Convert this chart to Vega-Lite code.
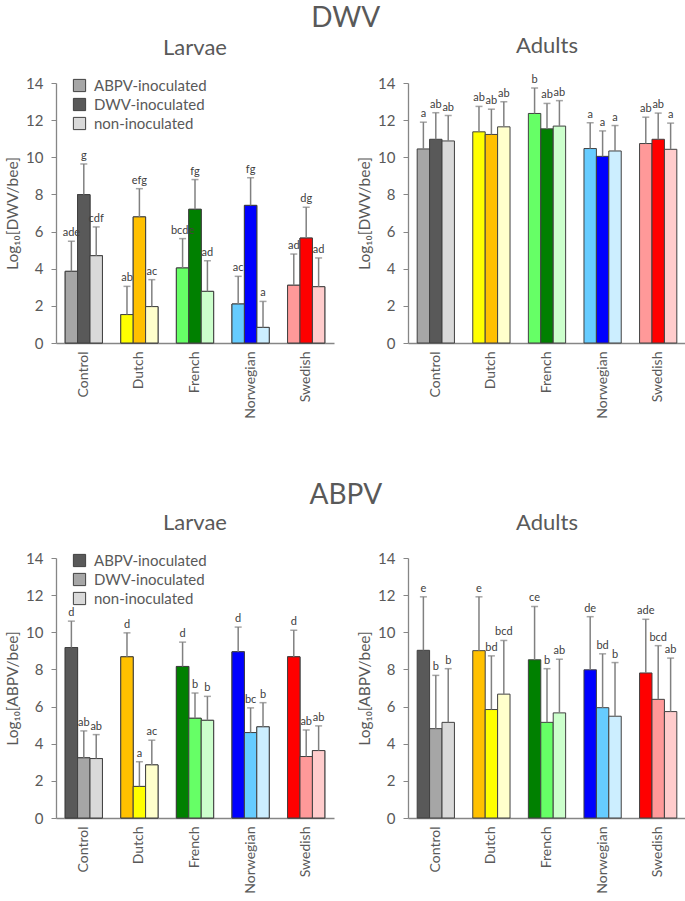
{
  "$schema": "https://vega.github.io/schema/vega-lite/v6.json",
  "config": {
    "font": "Lato",
    "view": {"stroke": null},
    "axis": {"domainColor": "#868686", "domainWidth": 1.3, "tickColor": "#868686", "labelColor": "#595959", "titleColor": "#595959", "grid": false, "titleFontWeight": "normal"},
    "axisX": {"labelAngle": -90, "ticks": false, "labelFontSize": 14, "labelPadding": 8},
    "axisY": {"labelFontSize": 15, "tickSize": 5, "labelPadding": 8, "titleFontSize": 15.5, "titlePadding": 5, "labelOverlap": false},
    "title": {"color": "#595959", "fontWeight": "normal", "anchor": "middle"}
  },
  "datasets": {
    "d": [
      {"virus": "DWV", "stage": "Larvae", "group": "Control", "treatment": "ABPV-inoculated", "value": 3.86, "upper": 5.48, "letters": "ade"},
      {"virus": "DWV", "stage": "Larvae", "group": "Control", "treatment": "DWV-inoculated", "value": 7.99, "upper": 9.64, "letters": "g"},
      {"virus": "DWV", "stage": "Larvae", "group": "Control", "treatment": "non-inoculated", "value": 4.70, "upper": 6.25, "letters": "cdf"},
      {"virus": "DWV", "stage": "Larvae", "group": "Dutch", "treatment": "ABPV-inoculated", "value": 1.53, "upper": 3.05, "letters": "ab"},
      {"virus": "DWV", "stage": "Larvae", "group": "Dutch", "treatment": "DWV-inoculated", "value": 6.79, "upper": 8.31, "letters": "efg"},
      {"virus": "DWV", "stage": "Larvae", "group": "Dutch", "treatment": "non-inoculated", "value": 1.96, "upper": 3.41, "letters": "ac"},
      {"virus": "DWV", "stage": "Larvae", "group": "French", "treatment": "ABPV-inoculated", "value": 4.04, "upper": 5.62, "letters": "bcde"},
      {"virus": "DWV", "stage": "Larvae", "group": "French", "treatment": "DWV-inoculated", "value": 7.20, "upper": 8.80, "letters": "fg"},
      {"virus": "DWV", "stage": "Larvae", "group": "French", "treatment": "non-inoculated", "value": 2.78, "upper": 4.43, "letters": "ad"},
      {"virus": "DWV", "stage": "Larvae", "group": "Norwegian", "treatment": "ABPV-inoculated", "value": 2.10, "upper": 3.59, "letters": "ac"},
      {"virus": "DWV", "stage": "Larvae", "group": "Norwegian", "treatment": "DWV-inoculated", "value": 7.41, "upper": 8.90, "letters": "fg"},
      {"virus": "DWV", "stage": "Larvae", "group": "Norwegian", "treatment": "non-inoculated", "value": 0.84, "upper": 2.24, "letters": "a"},
      {"virus": "DWV", "stage": "Larvae", "group": "Swedish", "treatment": "ABPV-inoculated", "value": 3.11, "upper": 4.79, "letters": "ad"},
      {"virus": "DWV", "stage": "Larvae", "group": "Swedish", "treatment": "DWV-inoculated", "value": 5.65, "upper": 7.31, "letters": "dg"},
      {"virus": "DWV", "stage": "Larvae", "group": "Swedish", "treatment": "non-inoculated", "value": 3.03, "upper": 4.58, "letters": "ad"},

      {"virus": "DWV", "stage": "Adults", "group": "Control", "treatment": "ABPV-inoculated", "value": 10.45, "upper": 11.89, "letters": "a"},
      {"virus": "DWV", "stage": "Adults", "group": "Control", "treatment": "DWV-inoculated", "value": 10.97, "upper": 12.40, "letters": "ab"},
      {"virus": "DWV", "stage": "Adults", "group": "Control", "treatment": "non-inoculated", "value": 10.88, "upper": 12.25, "letters": "ab"},
      {"virus": "DWV", "stage": "Adults", "group": "Dutch", "treatment": "ABPV-inoculated", "value": 11.37, "upper": 12.74, "letters": "ab"},
      {"virus": "DWV", "stage": "Adults", "group": "Dutch", "treatment": "DWV-inoculated", "value": 11.23, "upper": 12.59, "letters": "ab"},
      {"virus": "DWV", "stage": "Adults", "group": "Dutch", "treatment": "non-inoculated", "value": 11.64, "upper": 12.99, "letters": "ab"},
      {"virus": "DWV", "stage": "Adults", "group": "French", "treatment": "ABPV-inoculated", "value": 12.36, "upper": 13.73, "letters": "b"},
      {"virus": "DWV", "stage": "Adults", "group": "French", "treatment": "DWV-inoculated", "value": 11.53, "upper": 12.90, "letters": "ab"},
      {"virus": "DWV", "stage": "Adults", "group": "French", "treatment": "non-inoculated", "value": 11.68, "upper": 13.05, "letters": "ab"},
      {"virus": "DWV", "stage": "Adults", "group": "Norwegian", "treatment": "ABPV-inoculated", "value": 10.47, "upper": 11.86, "letters": "a"},
      {"virus": "DWV", "stage": "Adults", "group": "Norwegian", "treatment": "DWV-inoculated", "value": 10.05, "upper": 11.42, "letters": "a"},
      {"virus": "DWV", "stage": "Adults", "group": "Norwegian", "treatment": "non-inoculated", "value": 10.34, "upper": 11.71, "letters": "a"},
      {"virus": "DWV", "stage": "Adults", "group": "Swedish", "treatment": "ABPV-inoculated", "value": 10.74, "upper": 12.16, "letters": "ab"},
      {"virus": "DWV", "stage": "Adults", "group": "Swedish", "treatment": "DWV-inoculated", "value": 10.97, "upper": 12.38, "letters": "ab"},
      {"virus": "DWV", "stage": "Adults", "group": "Swedish", "treatment": "non-inoculated", "value": 10.43, "upper": 11.84, "letters": "a"},

      {"virus": "ABPV", "stage": "Larvae", "group": "Control", "treatment": "ABPV-inoculated", "value": 9.18, "upper": 10.60, "letters": "d"},
      {"virus": "ABPV", "stage": "Larvae", "group": "Control", "treatment": "DWV-inoculated", "value": 3.24, "upper": 4.69, "letters": "ab"},
      {"virus": "ABPV", "stage": "Larvae", "group": "Control", "treatment": "non-inoculated", "value": 3.20, "upper": 4.49, "letters": "ab"},
      {"virus": "ABPV", "stage": "Larvae", "group": "Dutch", "treatment": "ABPV-inoculated", "value": 8.68, "upper": 9.97, "letters": "d"},
      {"virus": "ABPV", "stage": "Larvae", "group": "Dutch", "treatment": "DWV-inoculated", "value": 1.70, "upper": 3.03, "letters": "a"},
      {"virus": "ABPV", "stage": "Larvae", "group": "Dutch", "treatment": "non-inoculated", "value": 2.86, "upper": 4.19, "letters": "ac"},
      {"virus": "ABPV", "stage": "Larvae", "group": "French", "treatment": "ABPV-inoculated", "value": 8.16, "upper": 9.47, "letters": "d"},
      {"virus": "ABPV", "stage": "Larvae", "group": "French", "treatment": "DWV-inoculated", "value": 5.37, "upper": 6.73, "letters": "b"},
      {"virus": "ABPV", "stage": "Larvae", "group": "French", "treatment": "non-inoculated", "value": 5.26, "upper": 6.55, "letters": "b"},
      {"virus": "ABPV", "stage": "Larvae", "group": "Norwegian", "treatment": "ABPV-inoculated", "value": 8.95, "upper": 10.28, "letters": "d"},
      {"virus": "ABPV", "stage": "Larvae", "group": "Norwegian", "treatment": "DWV-inoculated", "value": 4.60, "upper": 5.93, "letters": "bc"},
      {"virus": "ABPV", "stage": "Larvae", "group": "Norwegian", "treatment": "non-inoculated", "value": 4.91, "upper": 6.21, "letters": "b"},
      {"virus": "ABPV", "stage": "Larvae", "group": "Swedish", "treatment": "ABPV-inoculated", "value": 8.68, "upper": 10.11, "letters": "d"},
      {"virus": "ABPV", "stage": "Larvae", "group": "Swedish", "treatment": "DWV-inoculated", "value": 3.31, "upper": 4.74, "letters": "ab"},
      {"virus": "ABPV", "stage": "Larvae", "group": "Swedish", "treatment": "non-inoculated", "value": 3.63, "upper": 4.96, "letters": "ab"},

      {"virus": "ABPV", "stage": "Adults", "group": "Control", "treatment": "ABPV-inoculated", "value": 9.03, "upper": 11.91, "letters": "e"},
      {"virus": "ABPV", "stage": "Adults", "group": "Control", "treatment": "DWV-inoculated", "value": 4.81, "upper": 7.68, "letters": "b"},
      {"virus": "ABPV", "stage": "Adults", "group": "Control", "treatment": "non-inoculated", "value": 5.15, "upper": 8.04, "letters": "b"},
      {"virus": "ABPV", "stage": "Adults", "group": "Dutch", "treatment": "ABPV-inoculated", "value": 9.01, "upper": 11.91, "letters": "e"},
      {"virus": "ABPV", "stage": "Adults", "group": "Dutch", "treatment": "DWV-inoculated", "value": 5.84, "upper": 8.73, "letters": "bd"},
      {"virus": "ABPV", "stage": "Adults", "group": "Dutch", "treatment": "non-inoculated", "value": 6.67, "upper": 9.56, "letters": "bcd"},
      {"virus": "ABPV", "stage": "Adults", "group": "French", "treatment": "ABPV-inoculated", "value": 8.52, "upper": 11.39, "letters": "ce"},
      {"virus": "ABPV", "stage": "Adults", "group": "French", "treatment": "DWV-inoculated", "value": 5.15, "upper": 8.04, "letters": "b"},
      {"virus": "ABPV", "stage": "Adults", "group": "French", "treatment": "non-inoculated", "value": 5.66, "upper": 8.55, "letters": "ab"},
      {"virus": "ABPV", "stage": "Adults", "group": "Norwegian", "treatment": "ABPV-inoculated", "value": 7.98, "upper": 10.84, "letters": "de"},
      {"virus": "ABPV", "stage": "Adults", "group": "Norwegian", "treatment": "DWV-inoculated", "value": 5.94, "upper": 8.84, "letters": "bd"},
      {"virus": "ABPV", "stage": "Adults", "group": "Norwegian", "treatment": "non-inoculated", "value": 5.48, "upper": 8.37, "letters": "b"},
      {"virus": "ABPV", "stage": "Adults", "group": "Swedish", "treatment": "ABPV-inoculated", "value": 7.81, "upper": 10.70, "letters": "ade"},
      {"virus": "ABPV", "stage": "Adults", "group": "Swedish", "treatment": "DWV-inoculated", "value": 6.39, "upper": 9.28, "letters": "bcd"},
      {"virus": "ABPV", "stage": "Adults", "group": "Swedish", "treatment": "non-inoculated", "value": 5.73, "upper": 8.61, "letters": "ab"}
    ]
  },
  "spacing": 63,
  "resolve": {"scale": {"color": "independent", "fill": "independent"}, "legend": {"color": "independent", "fill": "independent"}},
  "vconcat": [
    {
      "title": {"text": "DWV", "fontSize": 28, "offset": 2},
      "spacing": 23,
      "resolve": {"scale": {"color": "independent", "fill": "independent"}, "legend": {"color": "independent", "fill": "independent"}},
      "hconcat": [
        {
          "title": {"text": "Larvae", "fontSize": 22, "offset": 16},
          "width": 278, "height": 260,
          "data": {"name": "d"},
          "transform": [{"filter": "datum.virus == 'DWV' && datum.stage == 'Larvae'"}, {"calculate": "datum.group + '|' + datum.treatment", "as": "key"}],
          "encoding": {
            "x": {"field": "group", "type": "nominal", "title": null, "scale": {"paddingInner": 0.33, "paddingOuter": 0.165}},
            "xOffset": {"field": "treatment", "type": "nominal"}
          },
          "layer": [
            {"mark": {"type": "bar", "stroke": "#404040", "strokeWidth": 1},
             "encoding": {
               "y": {"field": "value", "type": "quantitative", "title": "Log₁₀[DWV/bee]", "scale": {"domain": [0, 14]}, "axis": {"values": [0, 2, 4, 6, 8, 10, 12, 14]}},
               "fill": {"field": "treatment", "type": "nominal", "scale": {"domain": ["ABPV-inoculated", "DWV-inoculated", "non-inoculated"], "range": ["#a6a6a6", "#595959", "#d9d9d9"]},
                        "legend": {"orient": "none", "legendX": 16, "legendY": -5, "title": null, "symbolType": "square", "symbolSize": 150, "symbolStrokeColor": "#404040", "symbolStrokeWidth": 1, "labelFontSize": 15, "labelColor": "#595959", "rowPadding": 2, "labelOffset": 7}}
             }},
            {"mark": {"type": "bar", "stroke": "#404040", "strokeWidth": 1},
             "encoding": {
               "y": {"field": "value", "type": "quantitative", "title": "Log₁₀[DWV/bee]", "scale": {"domain": [0, 14]}, "axis": {"values": [0, 2, 4, 6, 8, 10, 12, 14]}},
               "color": {"field": "key", "type": "nominal", "legend": null, "scale": {
                 "domain": ["Control|ABPV-inoculated", "Control|DWV-inoculated", "Control|non-inoculated", "Dutch|ABPV-inoculated", "Dutch|DWV-inoculated", "Dutch|non-inoculated", "French|ABPV-inoculated", "French|DWV-inoculated", "French|non-inoculated", "Norwegian|ABPV-inoculated", "Norwegian|DWV-inoculated", "Norwegian|non-inoculated", "Swedish|ABPV-inoculated", "Swedish|DWV-inoculated", "Swedish|non-inoculated"],
                 "range": ["#a6a6a6", "#595959", "#d9d9d9", "#ffff00", "#ffc000", "#ffffcc", "#66ff66", "#008000", "#ccffcc", "#66ccff", "#0000ff", "#cceeff", "#ff9999", "#ff0000", "#ffcccc"]}}
             }},
            {"mark": {"type": "rule", "color": "#808080", "strokeWidth": 1.5},
             "encoding": {"y": {"field": "value", "type": "quantitative", "title": "Log₁₀[DWV/bee]", "axis": {"values": [0, 2, 4, 6, 8, 10, 12, 14]}}, "y2": {"field": "upper"}}},
            {"mark": {"type": "tick", "color": "#808080", "thickness": 1.5, "size": 7},
             "encoding": {"y": {"field": "upper", "type": "quantitative", "title": "Log₁₀[DWV/bee]", "axis": {"values": [0, 2, 4, 6, 8, 10, 12, 14]}}}},
            {"mark": {"type": "text", "baseline": "bottom", "dy": -3, "fontSize": 11, "color": "#404040"},
             "encoding": {"y": {"field": "upper", "type": "quantitative", "title": "Log₁₀[DWV/bee]", "axis": {"values": [0, 2, 4, 6, 8, 10, 12, 14]}}, "text": {"field": "letters"}}}
          ]
        },
        {
          "title": {"text": "Adults", "fontSize": 22, "offset": 16},
          "width": 278, "height": 260,
          "data": {"name": "d"},
          "transform": [{"filter": "datum.virus == 'DWV' && datum.stage == 'Adults'"}, {"calculate": "datum.group + '|' + datum.treatment", "as": "key"}],
          "encoding": {
            "x": {"field": "group", "type": "nominal", "title": null, "scale": {"paddingInner": 0.33, "paddingOuter": 0.165}},
            "xOffset": {"field": "treatment", "type": "nominal"}
          },
          "layer": [
            {"mark": {"type": "bar", "stroke": "#404040", "strokeWidth": 1},
             "encoding": {
               "y": {"field": "value", "type": "quantitative", "title": "Log₁₀[DWV/bee]", "scale": {"domain": [0, 14]}, "axis": {"values": [0, 2, 4, 6, 8, 10, 12, 14]}},
               "color": {"field": "key", "type": "nominal", "legend": null, "scale": {
                 "domain": ["Control|ABPV-inoculated", "Control|DWV-inoculated", "Control|non-inoculated", "Dutch|ABPV-inoculated", "Dutch|DWV-inoculated", "Dutch|non-inoculated", "French|ABPV-inoculated", "French|DWV-inoculated", "French|non-inoculated", "Norwegian|ABPV-inoculated", "Norwegian|DWV-inoculated", "Norwegian|non-inoculated", "Swedish|ABPV-inoculated", "Swedish|DWV-inoculated", "Swedish|non-inoculated"],
                 "range": ["#a6a6a6", "#595959", "#d9d9d9", "#ffff00", "#ffc000", "#ffffcc", "#66ff66", "#008000", "#ccffcc", "#66ccff", "#0000ff", "#cceeff", "#ff9999", "#ff0000", "#ffcccc"]}}
             }},
            {"mark": {"type": "rule", "color": "#808080", "strokeWidth": 1.5},
             "encoding": {"y": {"field": "value", "type": "quantitative", "title": "Log₁₀[DWV/bee]", "axis": {"values": [0, 2, 4, 6, 8, 10, 12, 14]}}, "y2": {"field": "upper"}}},
            {"mark": {"type": "tick", "color": "#808080", "thickness": 1.5, "size": 7},
             "encoding": {"y": {"field": "upper", "type": "quantitative", "title": "Log₁₀[DWV/bee]", "axis": {"values": [0, 2, 4, 6, 8, 10, 12, 14]}}}},
            {"mark": {"type": "text", "baseline": "bottom", "dy": -3, "fontSize": 11, "color": "#404040"},
             "encoding": {"y": {"field": "upper", "type": "quantitative", "title": "Log₁₀[DWV/bee]", "axis": {"values": [0, 2, 4, 6, 8, 10, 12, 14]}}, "text": {"field": "letters"}}}
          ]
        }
      ]
    },
    {
      "title": {"text": "ABPV", "fontSize": 28, "offset": 2},
      "spacing": 23,
      "resolve": {"scale": {"color": "independent", "fill": "independent"}, "legend": {"color": "independent", "fill": "independent"}},
      "hconcat": [
        {
          "title": {"text": "Larvae", "fontSize": 22, "offset": 16},
          "width": 278, "height": 260,
          "data": {"name": "d"},
          "transform": [{"filter": "datum.virus == 'ABPV' && datum.stage == 'Larvae'"}, {"calculate": "datum.group + '|' + datum.treatment", "as": "key"}],
          "encoding": {
            "x": {"field": "group", "type": "nominal", "title": null, "scale": {"paddingInner": 0.33, "paddingOuter": 0.165}},
            "xOffset": {"field": "treatment", "type": "nominal"}
          },
          "layer": [
            {"mark": {"type": "bar", "stroke": "#404040", "strokeWidth": 1},
             "encoding": {
               "y": {"field": "value", "type": "quantitative", "title": "Log₁₀[ABPV/bee]", "scale": {"domain": [0, 14]}, "axis": {"values": [0, 2, 4, 6, 8, 10, 12, 14]}},
               "fill": {"field": "treatment", "type": "nominal", "scale": {"domain": ["ABPV-inoculated", "DWV-inoculated", "non-inoculated"], "range": ["#595959", "#a6a6a6", "#d9d9d9"]},
                        "legend": {"orient": "none", "legendX": 16, "legendY": -5, "title": null, "symbolType": "square", "symbolSize": 150, "symbolStrokeColor": "#404040", "symbolStrokeWidth": 1, "labelFontSize": 15, "labelColor": "#595959", "rowPadding": 2, "labelOffset": 7}}
             }},
            {"mark": {"type": "bar", "stroke": "#404040", "strokeWidth": 1},
             "encoding": {
               "y": {"field": "value", "type": "quantitative", "title": "Log₁₀[ABPV/bee]", "scale": {"domain": [0, 14]}, "axis": {"values": [0, 2, 4, 6, 8, 10, 12, 14]}},
               "color": {"field": "key", "type": "nominal", "legend": null, "scale": {
                 "domain": ["Control|ABPV-inoculated", "Control|DWV-inoculated", "Control|non-inoculated", "Dutch|ABPV-inoculated", "Dutch|DWV-inoculated", "Dutch|non-inoculated", "French|ABPV-inoculated", "French|DWV-inoculated", "French|non-inoculated", "Norwegian|ABPV-inoculated", "Norwegian|DWV-inoculated", "Norwegian|non-inoculated", "Swedish|ABPV-inoculated", "Swedish|DWV-inoculated", "Swedish|non-inoculated"],
                 "range": ["#595959", "#a6a6a6", "#d9d9d9", "#ffc000", "#ffff00", "#ffffcc", "#008000", "#66ff66", "#ccffcc", "#0000ff", "#66ccff", "#cceeff", "#ff0000", "#ff9999", "#ffcccc"]}}
             }},
            {"mark": {"type": "rule", "color": "#808080", "strokeWidth": 1.5},
             "encoding": {"y": {"field": "value", "type": "quantitative", "title": "Log₁₀[ABPV/bee]", "axis": {"values": [0, 2, 4, 6, 8, 10, 12, 14]}}, "y2": {"field": "upper"}}},
            {"mark": {"type": "tick", "color": "#808080", "thickness": 1.5, "size": 7},
             "encoding": {"y": {"field": "upper", "type": "quantitative", "title": "Log₁₀[ABPV/bee]", "axis": {"values": [0, 2, 4, 6, 8, 10, 12, 14]}}}},
            {"mark": {"type": "text", "baseline": "bottom", "dy": -3, "fontSize": 11, "color": "#404040"},
             "encoding": {"y": {"field": "upper", "type": "quantitative", "title": "Log₁₀[ABPV/bee]", "axis": {"values": [0, 2, 4, 6, 8, 10, 12, 14]}}, "text": {"field": "letters"}}}
          ]
        },
        {
          "title": {"text": "Adults", "fontSize": 22, "offset": 16},
          "width": 278, "height": 260,
          "data": {"name": "d"},
          "transform": [{"filter": "datum.virus == 'ABPV' && datum.stage == 'Adults'"}, {"calculate": "datum.group + '|' + datum.treatment", "as": "key"}],
          "encoding": {
            "x": {"field": "group", "type": "nominal", "title": null, "scale": {"paddingInner": 0.33, "paddingOuter": 0.165}},
            "xOffset": {"field": "treatment", "type": "nominal"}
          },
          "layer": [
            {"mark": {"type": "bar", "stroke": "#404040", "strokeWidth": 1},
             "encoding": {
               "y": {"field": "value", "type": "quantitative", "title": "Log₁₀[ABPV/bee]", "scale": {"domain": [0, 14]}, "axis": {"values": [0, 2, 4, 6, 8, 10, 12, 14]}},
               "color": {"field": "key", "type": "nominal", "legend": null, "scale": {
                 "domain": ["Control|ABPV-inoculated", "Control|DWV-inoculated", "Control|non-inoculated", "Dutch|ABPV-inoculated", "Dutch|DWV-inoculated", "Dutch|non-inoculated", "French|ABPV-inoculated", "French|DWV-inoculated", "French|non-inoculated", "Norwegian|ABPV-inoculated", "Norwegian|DWV-inoculated", "Norwegian|non-inoculated", "Swedish|ABPV-inoculated", "Swedish|DWV-inoculated", "Swedish|non-inoculated"],
                 "range": ["#595959", "#a6a6a6", "#d9d9d9", "#ffc000", "#ffff00", "#ffffcc", "#008000", "#66ff66", "#ccffcc", "#0000ff", "#66ccff", "#cceeff", "#ff0000", "#ff9999", "#ffcccc"]}}
             }},
            {"mark": {"type": "rule", "color": "#808080", "strokeWidth": 1.5},
             "encoding": {"y": {"field": "value", "type": "quantitative", "title": "Log₁₀[ABPV/bee]", "axis": {"values": [0, 2, 4, 6, 8, 10, 12, 14]}}, "y2": {"field": "upper"}}},
            {"mark": {"type": "tick", "color": "#808080", "thickness": 1.5, "size": 7},
             "encoding": {"y": {"field": "upper", "type": "quantitative", "title": "Log₁₀[ABPV/bee]", "axis": {"values": [0, 2, 4, 6, 8, 10, 12, 14]}}}},
            {"mark": {"type": "text", "baseline": "bottom", "dy": -3, "fontSize": 11, "color": "#404040"},
             "encoding": {"y": {"field": "upper", "type": "quantitative", "title": "Log₁₀[ABPV/bee]", "axis": {"values": [0, 2, 4, 6, 8, 10, 12, 14]}}, "text": {"field": "letters"}}}
          ]
        }
      ]
    }
  ]
}
